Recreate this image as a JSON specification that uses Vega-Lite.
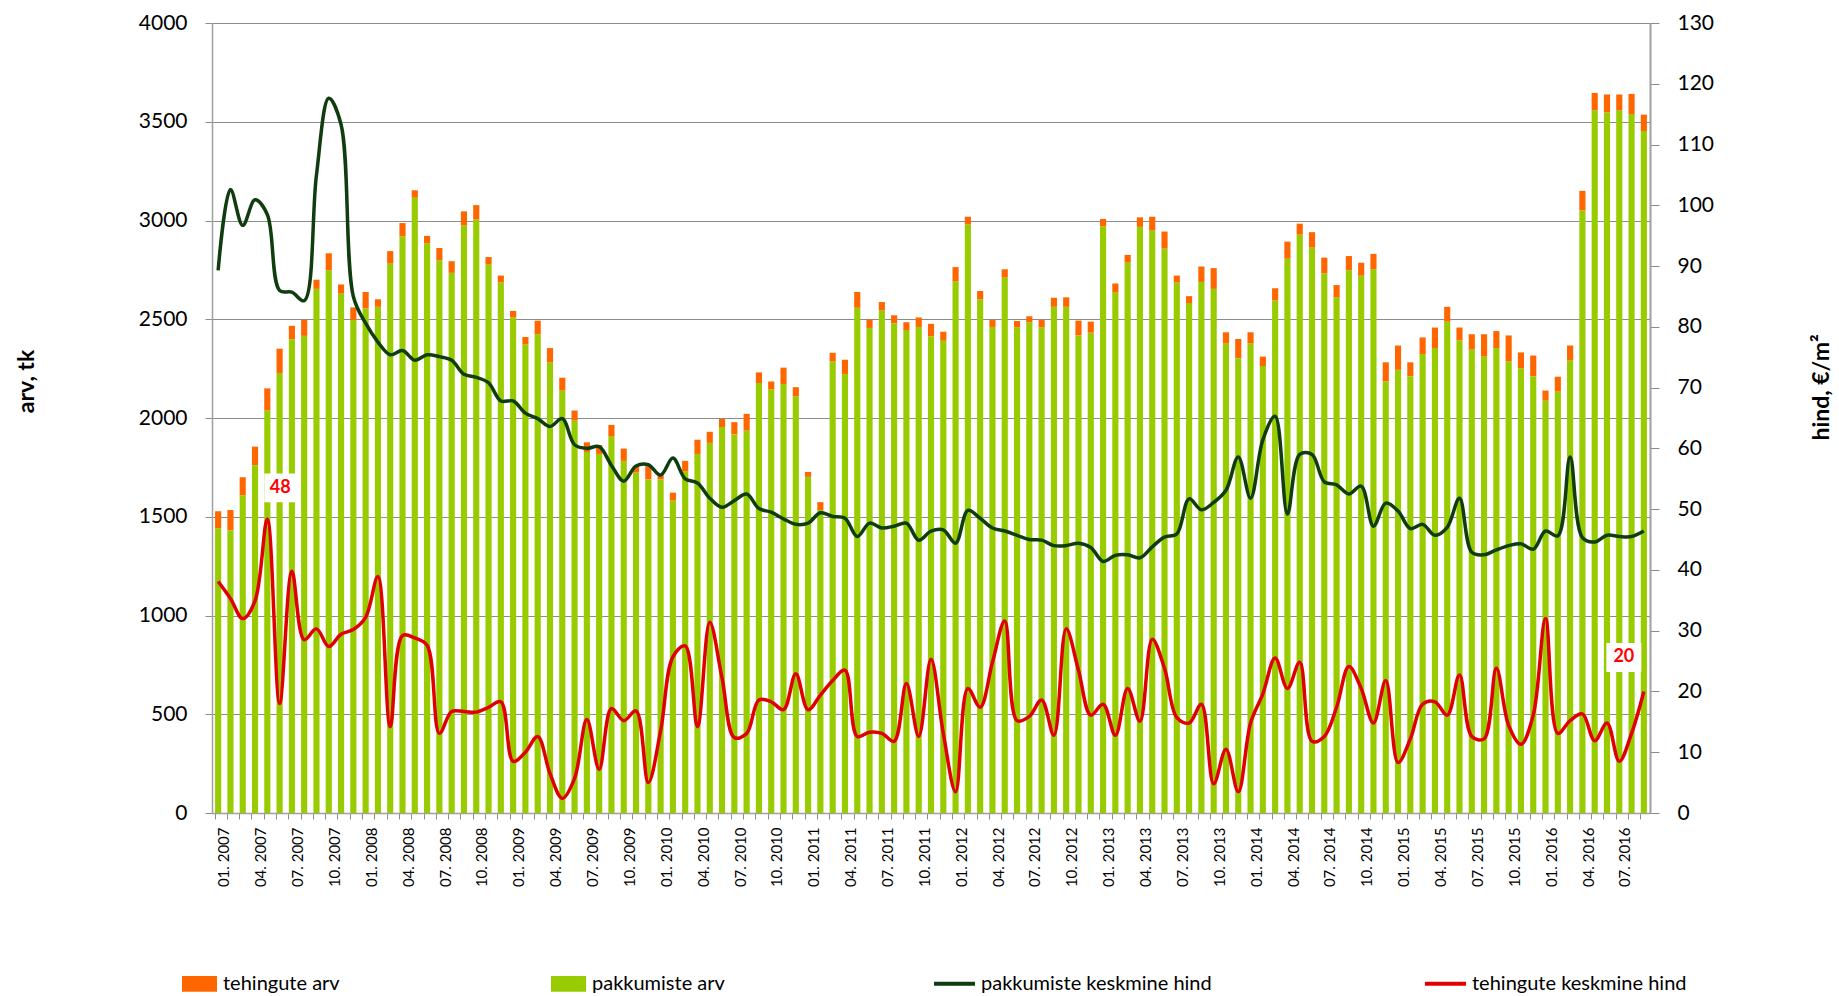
{
  "$schema": "https://vega.github.io/schema/vega-lite/v6.json",
  "autosize": {"type": "none"},
  "width": 1438,
  "height": 790,
  "padding": {"left": 212, "top": 23, "right": 189, "bottom": 183},
  "background": "white",
  "config": {
    "view": {"stroke": null},
    "font": "Lato",
    "axis": {"labelFont": "Lato", "titleFont": "Lato", "labelColor": "#000000", "titleColor": "#000000"}
  },
  "datasets": {
    "d": [
      {"kuu":"2007-01","pakkumiste_arv":1442,"tehingute_arv":86,"pakkumiste_hind":89.3,"tehingute_hind":38.1},
      {"kuu":"2007-02","pakkumiste_arv":1432,"tehingute_arv":102,"pakkumiste_hind":102.6,"tehingute_hind":35.3},
      {"kuu":"2007-03","pakkumiste_arv":1609,"tehingute_arv":91,"pakkumiste_hind":96.7,"tehingute_hind":32.0},
      {"kuu":"2007-04","pakkumiste_arv":1761,"tehingute_arv":94,"pakkumiste_hind":100.9,"tehingute_hind":34.9},
      {"kuu":"2007-05","pakkumiste_arv":2038,"tehingute_arv":112,"pakkumiste_hind":98.5,"tehingute_hind":48.4},
      {"kuu":"2007-06","pakkumiste_arv":2228,"tehingute_arv":123,"pakkumiste_hind":86.0,"tehingute_hind":18.0},
      {"kuu":"2007-07","pakkumiste_arv":2399,"tehingute_arv":68,"pakkumiste_hind":85.7,"tehingute_hind":39.8},
      {"kuu":"2007-08","pakkumiste_arv":2416,"tehingute_arv":80,"pakkumiste_hind":84.3,"tehingute_hind":28.5},
      {"kuu":"2007-09","pakkumiste_arv":2654,"tehingute_arv":46,"pakkumiste_hind":105.0,"tehingute_hind":30.3},
      {"kuu":"2007-10","pakkumiste_arv":2748,"tehingute_arv":86,"pakkumiste_hind":117.6,"tehingute_hind":27.4},
      {"kuu":"2007-11","pakkumiste_arv":2630,"tehingute_arv":46,"pakkumiste_hind":113.3,"tehingute_hind":29.4},
      {"kuu":"2007-12","pakkumiste_arv":2496,"tehingute_arv":64,"pakkumiste_hind":85.0,"tehingute_hind":30.2},
      {"kuu":"2008-01","pakkumiste_arv":2555,"tehingute_arv":83,"pakkumiste_hind":80.6,"tehingute_hind":32.2},
      {"kuu":"2008-02","pakkumiste_arv":2563,"tehingute_arv":38,"pakkumiste_hind":77.5,"tehingute_hind":38.9},
      {"kuu":"2008-03","pakkumiste_arv":2783,"tehingute_arv":62,"pakkumiste_hind":75.4,"tehingute_hind":14.2},
      {"kuu":"2008-04","pakkumiste_arv":2920,"tehingute_arv":67,"pakkumiste_hind":76.1,"tehingute_hind":29.2},
      {"kuu":"2008-05","pakkumiste_arv":3115,"tehingute_arv":38,"pakkumiste_hind":74.5,"tehingute_hind":28.8},
      {"kuu":"2008-06","pakkumiste_arv":2885,"tehingute_arv":37,"pakkumiste_hind":75.4,"tehingute_hind":27.6},
      {"kuu":"2008-07","pakkumiste_arv":2799,"tehingute_arv":62,"pakkumiste_hind":75.1,"tehingute_hind":13.1},
      {"kuu":"2008-08","pakkumiste_arv":2735,"tehingute_arv":59,"pakkumiste_hind":74.5,"tehingute_hind":16.7},
      {"kuu":"2008-09","pakkumiste_arv":2976,"tehingute_arv":70,"pakkumiste_hind":72.2,"tehingute_hind":16.7},
      {"kuu":"2008-10","pakkumiste_arv":3005,"tehingute_arv":73,"pakkumiste_hind":71.7,"tehingute_hind":16.6},
      {"kuu":"2008-11","pakkumiste_arv":2778,"tehingute_arv":37,"pakkumiste_hind":70.8,"tehingute_hind":17.4},
      {"kuu":"2008-12","pakkumiste_arv":2686,"tehingute_arv":35,"pakkumiste_hind":67.8,"tehingute_hind":18.3},
      {"kuu":"2009-01","pakkumiste_arv":2509,"tehingute_arv":33,"pakkumiste_hind":67.8,"tehingute_hind":8.5},
      {"kuu":"2009-02","pakkumiste_arv":2373,"tehingute_arv":37,"pakkumiste_hind":65.8,"tehingute_hind":10.0},
      {"kuu":"2009-03","pakkumiste_arv":2424,"tehingute_arv":69,"pakkumiste_hind":64.9,"tehingute_hind":12.6},
      {"kuu":"2009-04","pakkumiste_arv":2282,"tehingute_arv":72,"pakkumiste_hind":63.6,"tehingute_hind":6.5},
      {"kuu":"2009-05","pakkumiste_arv":2139,"tehingute_arv":65,"pakkumiste_hind":64.9,"tehingute_hind":2.4},
      {"kuu":"2009-06","pakkumiste_arv":1987,"tehingute_arv":51,"pakkumiste_hind":60.6,"tehingute_hind":5.7},
      {"kuu":"2009-07","pakkumiste_arv":1828,"tehingute_arv":49,"pakkumiste_hind":60.0,"tehingute_hind":15.4},
      {"kuu":"2009-08","pakkumiste_arv":1818,"tehingute_arv":45,"pakkumiste_hind":60.3,"tehingute_hind":7.2},
      {"kuu":"2009-09","pakkumiste_arv":1906,"tehingute_arv":59,"pakkumiste_hind":57.2,"tehingute_hind":17.2},
      {"kuu":"2009-10","pakkumiste_arv":1783,"tehingute_arv":62,"pakkumiste_hind":54.6,"tehingute_hind":15.2},
      {"kuu":"2009-11","pakkumiste_arv":1724,"tehingute_arv":32,"pakkumiste_hind":57.1,"tehingute_hind":16.8},
      {"kuu":"2009-12","pakkumiste_arv":1689,"tehingute_arv":67,"pakkumiste_hind":57.3,"tehingute_hind":5.0},
      {"kuu":"2010-01","pakkumiste_arv":1689,"tehingute_arv":32,"pakkumiste_hind":55.6,"tehingute_hind":13.5},
      {"kuu":"2010-02","pakkumiste_arv":1582,"tehingute_arv":40,"pakkumiste_hind":58.4,"tehingute_hind":25.7},
      {"kuu":"2010-03","pakkumiste_arv":1729,"tehingute_arv":54,"pakkumiste_hind":55.0,"tehingute_hind":27.5},
      {"kuu":"2010-04","pakkumiste_arv":1818,"tehingute_arv":72,"pakkumiste_hind":54.3,"tehingute_hind":14.2},
      {"kuu":"2010-05","pakkumiste_arv":1874,"tehingute_arv":56,"pakkumiste_hind":51.8,"tehingute_hind":31.4},
      {"kuu":"2010-06","pakkumiste_arv":1954,"tehingute_arv":41,"pakkumiste_hind":50.3,"tehingute_hind":22.2},
      {"kuu":"2010-07","pakkumiste_arv":1917,"tehingute_arv":62,"pakkumiste_hind":51.4,"tehingute_hind":12.4},
      {"kuu":"2010-08","pakkumiste_arv":1936,"tehingute_arv":85,"pakkumiste_hind":52.5,"tehingute_hind":13.1},
      {"kuu":"2010-09","pakkumiste_arv":2177,"tehingute_arv":54,"pakkumiste_hind":50.1,"tehingute_hind":18.6},
      {"kuu":"2010-10","pakkumiste_arv":2145,"tehingute_arv":40,"pakkumiste_hind":49.5,"tehingute_hind":18.3},
      {"kuu":"2010-11","pakkumiste_arv":2172,"tehingute_arv":83,"pakkumiste_hind":48.4,"tehingute_hind":17.0},
      {"kuu":"2010-12","pakkumiste_arv":2110,"tehingute_arv":46,"pakkumiste_hind":47.5,"tehingute_hind":22.9},
      {"kuu":"2011-01","pakkumiste_arv":1702,"tehingute_arv":25,"pakkumiste_hind":47.7,"tehingute_hind":17.0},
      {"kuu":"2011-02","pakkumiste_arv":1534,"tehingute_arv":40,"pakkumiste_hind":49.4,"tehingute_hind":19.4},
      {"kuu":"2011-03","pakkumiste_arv":2287,"tehingute_arv":43,"pakkumiste_hind":48.8,"tehingute_hind":21.8},
      {"kuu":"2011-04","pakkumiste_arv":2223,"tehingute_arv":72,"pakkumiste_hind":48.5,"tehingute_hind":23.5},
      {"kuu":"2011-05","pakkumiste_arv":2558,"tehingute_arv":80,"pakkumiste_hind":45.5,"tehingute_hind":12.6},
      {"kuu":"2011-06","pakkumiste_arv":2456,"tehingute_arv":43,"pakkumiste_hind":47.7,"tehingute_hind":13.3},
      {"kuu":"2011-07","pakkumiste_arv":2544,"tehingute_arv":43,"pakkumiste_hind":46.9,"tehingute_hind":13.1},
      {"kuu":"2011-08","pakkumiste_arv":2480,"tehingute_arv":40,"pakkumiste_hind":47.2,"tehingute_hind":11.8},
      {"kuu":"2011-09","pakkumiste_arv":2445,"tehingute_arv":40,"pakkumiste_hind":47.7,"tehingute_hind":21.3},
      {"kuu":"2011-10","pakkumiste_arv":2461,"tehingute_arv":48,"pakkumiste_hind":44.9,"tehingute_hind":12.6},
      {"kuu":"2011-11","pakkumiste_arv":2413,"tehingute_arv":64,"pakkumiste_hind":46.4,"tehingute_hind":25.3},
      {"kuu":"2011-12","pakkumiste_arv":2391,"tehingute_arv":46,"pakkumiste_hind":46.6,"tehingute_hind":13.1},
      {"kuu":"2012-01","pakkumiste_arv":2692,"tehingute_arv":72,"pakkumiste_hind":44.4,"tehingute_hind":3.5},
      {"kuu":"2012-02","pakkumiste_arv":2981,"tehingute_arv":38,"pakkumiste_hind":49.8,"tehingute_hind":20.5},
      {"kuu":"2012-03","pakkumiste_arv":2601,"tehingute_arv":42,"pakkumiste_hind":48.5,"tehingute_hind":17.4},
      {"kuu":"2012-04","pakkumiste_arv":2461,"tehingute_arv":35,"pakkumiste_hind":46.9,"tehingute_hind":24.8},
      {"kuu":"2012-05","pakkumiste_arv":2711,"tehingute_arv":42,"pakkumiste_hind":46.4,"tehingute_hind":31.6},
      {"kuu":"2012-06","pakkumiste_arv":2458,"tehingute_arv":33,"pakkumiste_hind":45.7,"tehingute_hind":15.2},
      {"kuu":"2012-07","pakkumiste_arv":2485,"tehingute_arv":30,"pakkumiste_hind":45.0,"tehingute_hind":15.9},
      {"kuu":"2012-08","pakkumiste_arv":2458,"tehingute_arv":38,"pakkumiste_hind":44.9,"tehingute_hind":18.6},
      {"kuu":"2012-09","pakkumiste_arv":2563,"tehingute_arv":46,"pakkumiste_hind":44.0,"tehingute_hind":12.8},
      {"kuu":"2012-10","pakkumiste_arv":2563,"tehingute_arv":48,"pakkumiste_hind":44.0,"tehingute_hind":30.3},
      {"kuu":"2012-11","pakkumiste_arv":2418,"tehingute_arv":75,"pakkumiste_hind":44.4,"tehingute_hind":23.5},
      {"kuu":"2012-12","pakkumiste_arv":2432,"tehingute_arv":56,"pakkumiste_hind":43.7,"tehingute_hind":16.1},
      {"kuu":"2013-01","pakkumiste_arv":2971,"tehingute_arv":37,"pakkumiste_hind":41.4,"tehingute_hind":17.9},
      {"kuu":"2013-02","pakkumiste_arv":2635,"tehingute_arv":46,"pakkumiste_hind":42.4,"tehingute_hind":12.8},
      {"kuu":"2013-03","pakkumiste_arv":2788,"tehingute_arv":38,"pakkumiste_hind":42.5,"tehingute_hind":20.5},
      {"kuu":"2013-04","pakkumiste_arv":2968,"tehingute_arv":48,"pakkumiste_hind":42.0,"tehingute_hind":15.1},
      {"kuu":"2013-05","pakkumiste_arv":2949,"tehingute_arv":70,"pakkumiste_hind":43.8,"tehingute_hind":28.6},
      {"kuu":"2013-06","pakkumiste_arv":2858,"tehingute_arv":86,"pakkumiste_hind":45.4,"tehingute_hind":23.8},
      {"kuu":"2013-07","pakkumiste_arv":2686,"tehingute_arv":35,"pakkumiste_hind":45.9,"tehingute_hind":15.7},
      {"kuu":"2013-08","pakkumiste_arv":2582,"tehingute_arv":35,"pakkumiste_hind":51.7,"tehingute_hind":14.8},
      {"kuu":"2013-09","pakkumiste_arv":2689,"tehingute_arv":78,"pakkumiste_hind":49.9,"tehingute_hind":17.9},
      {"kuu":"2013-10","pakkumiste_arv":2654,"tehingute_arv":105,"pakkumiste_hind":51.1,"tehingute_hind":4.8},
      {"kuu":"2013-11","pakkumiste_arv":2378,"tehingute_arv":56,"pakkumiste_hind":53.1,"tehingute_hind":10.5},
      {"kuu":"2013-12","pakkumiste_arv":2303,"tehingute_arv":97,"pakkumiste_hind":58.6,"tehingute_hind":3.5},
      {"kuu":"2014-01","pakkumiste_arv":2378,"tehingute_arv":56,"pakkumiste_hind":51.8,"tehingute_hind":14.8},
      {"kuu":"2014-02","pakkumiste_arv":2263,"tehingute_arv":48,"pakkumiste_hind":61.4,"tehingute_hind":19.6},
      {"kuu":"2014-03","pakkumiste_arv":2595,"tehingute_arv":62,"pakkumiste_hind":65.3,"tehingute_hind":25.5},
      {"kuu":"2014-04","pakkumiste_arv":2807,"tehingute_arv":86,"pakkumiste_hind":49.2,"tehingute_hind":20.5},
      {"kuu":"2014-05","pakkumiste_arv":2928,"tehingute_arv":56,"pakkumiste_hind":59.0,"tehingute_hind":24.8},
      {"kuu":"2014-06","pakkumiste_arv":2863,"tehingute_arv":78,"pakkumiste_hind":59.0,"tehingute_hind":11.8},
      {"kuu":"2014-07","pakkumiste_arv":2732,"tehingute_arv":80,"pakkumiste_hind":54.5,"tehingute_hind":12.6},
      {"kuu":"2014-08","pakkumiste_arv":2611,"tehingute_arv":62,"pakkumiste_hind":54.0,"tehingute_hind":17.4},
      {"kuu":"2014-09","pakkumiste_arv":2748,"tehingute_arv":72,"pakkumiste_hind":52.5,"tehingute_hind":24.1},
      {"kuu":"2014-10","pakkumiste_arv":2721,"tehingute_arv":65,"pakkumiste_hind":53.8,"tehingute_hind":20.5},
      {"kuu":"2014-11","pakkumiste_arv":2753,"tehingute_arv":78,"pakkumiste_hind":47.2,"tehingute_hind":14.8},
      {"kuu":"2014-12","pakkumiste_arv":2185,"tehingute_arv":97,"pakkumiste_hind":51.0,"tehingute_hind":21.8},
      {"kuu":"2015-01","pakkumiste_arv":2244,"tehingute_arv":123,"pakkumiste_hind":49.7,"tehingute_hind":8.3},
      {"kuu":"2015-02","pakkumiste_arv":2212,"tehingute_arv":70,"pakkumiste_hind":46.8,"tehingute_hind":12.2},
      {"kuu":"2015-03","pakkumiste_arv":2324,"tehingute_arv":84,"pakkumiste_hind":47.5,"tehingute_hind":17.9},
      {"kuu":"2015-04","pakkumiste_arv":2354,"tehingute_arv":104,"pakkumiste_hind":45.7,"tehingute_hind":18.3},
      {"kuu":"2015-05","pakkumiste_arv":2488,"tehingute_arv":75,"pakkumiste_hind":47.0,"tehingute_hind":16.1},
      {"kuu":"2015-06","pakkumiste_arv":2394,"tehingute_arv":64,"pakkumiste_hind":51.8,"tehingute_hind":22.7},
      {"kuu":"2015-07","pakkumiste_arv":2346,"tehingute_arv":78,"pakkumiste_hind":42.9,"tehingute_hind":12.6},
      {"kuu":"2015-08","pakkumiste_arv":2311,"tehingute_arv":113,"pakkumiste_hind":42.5,"tehingute_hind":12.2},
      {"kuu":"2015-09","pakkumiste_arv":2354,"tehingute_arv":86,"pakkumiste_hind":43.3,"tehingute_hind":23.8},
      {"kuu":"2015-10","pakkumiste_arv":2287,"tehingute_arv":131,"pakkumiste_hind":44.0,"tehingute_hind":14.4},
      {"kuu":"2015-11","pakkumiste_arv":2252,"tehingute_arv":80,"pakkumiste_hind":44.3,"tehingute_hind":11.3},
      {"kuu":"2015-12","pakkumiste_arv":2212,"tehingute_arv":104,"pakkumiste_hind":43.4,"tehingute_hind":16.1},
      {"kuu":"2016-01","pakkumiste_arv":2088,"tehingute_arv":51,"pakkumiste_hind":46.4,"tehingute_hind":32.0},
      {"kuu":"2016-02","pakkumiste_arv":2134,"tehingute_arv":75,"pakkumiste_hind":45.6,"tehingute_hind":13.1},
      {"kuu":"2016-03","pakkumiste_arv":2292,"tehingute_arv":75,"pakkumiste_hind":58.6,"tehingute_hind":15.2},
      {"kuu":"2016-04","pakkumiste_arv":3051,"tehingute_arv":99,"pakkumiste_hind":45.3,"tehingute_hind":16.3},
      {"kuu":"2016-05","pakkumiste_arv":3558,"tehingute_arv":88,"pakkumiste_hind":44.6,"tehingute_hind":11.9},
      {"kuu":"2016-06","pakkumiste_arv":3547,"tehingute_arv":91,"pakkumiste_hind":45.7,"tehingute_hind":14.8},
      {"kuu":"2016-07","pakkumiste_arv":3558,"tehingute_arv":80,"pakkumiste_hind":45.5,"tehingute_hind":8.5},
      {"kuu":"2016-08","pakkumiste_arv":3539,"tehingute_arv":102,"pakkumiste_hind":45.5,"tehingute_hind":13.1},
      {"kuu":"2016-09","pakkumiste_arv":3453,"tehingute_arv":83,"pakkumiste_hind":46.4,"tehingute_hind":20.0}
    ]
  },
  "data": {"name": "d"},
  "resolve": {"scale": {"y": "independent"}},
  "layer": [
    {
      "transform": [{"fold": ["pakkumiste_arv", "tehingute_arv"], "as": ["sari", "arv"]}],
      "mark": {"type": "bar"},
      "encoding": {
        "x": {
          "field": "kuu", "type": "ordinal",
          "scale": {"paddingInner": 0.5, "paddingOuter": 0.25},
          "axis": {
            "title": null,
            "bandPosition": 0,
            "labelOffset": 6.15,
            "labelAngle": -90,
            "labelFontSize": 15,
            "labelPadding": 8,
            "labelOverlap": false,
            "labelExpr": "indexof(['01','04','07','10'], substring(datum.value,5,7)) >= 0 ? substring(datum.value,5,7) + '. ' + substring(datum.value,0,4) : ''",
            "tickSize": 6,
            "tickColor": "#8c8c8c",
            "domainColor": "#a0a0a0",
            "domainWidth": 1.5,
            "grid": false
          }
        },
        "y": {
          "field": "arv", "type": "quantitative", "stack": "zero",
          "scale": {"domain": [0, 4000], "nice": false},
          "axis": {
            "orient": "left",
            "title": "arv, tk",
            "titleFontSize": 23,
            "titleFontWeight": "bold",
            "titleAngle": -90,
            "titleX": -186,
            "titleY": 358,
            "titleAlign": "center",
            "titleBaseline": "middle",
            "values": [0, 500, 1000, 1500, 2000, 2500, 3000, 3500, 4000],
            "format": "d",
            "labelFontSize": 21,
            "labelPadding": 18,
            "tickSize": 7,
            "tickColor": "#8c8c8c",
            "grid": true,
            "gridColor": "#8c8c8c",
            "gridWidth": 1,
            "domainColor": "#a0a0a0",
            "domainWidth": 1.5
          }
        },
        "color": {
          "field": "sari", "type": "nominal",
          "scale": {"domain": ["tehingute_arv", "pakkumiste_arv"], "range": ["#FF6600", "#99CC00"]},
          "legend": {
            "orient": "none",
            "legendX": -30,
            "legendY": 943,
            "direction": "horizontal",
            "title": null,
            "padding": 0,
            "symbolType": "M-1,-0.45H1V0.45H-1Z",
            "symbolSize": 1225,
            "symbolStrokeWidth": 0,
            "symbolOpacity": 1,
            "labelFont": "Lato",
            "labelFontSize": 20,
            "labelColor": "#000000",
            "labelOffset": 6,
            "labelLimit": 400,
            "columnPadding": 211,
            "labelExpr": "replace(datum.label, '_', ' ')"
          }
        },
        "order": {"field": "sari", "sort": "ascending"}
      }
    },
    {
      "layer": [
        {
          "transform": [{"fold": ["pakkumiste_hind", "tehingute_hind"], "as": ["sari2", "hind"]}],
          "mark": {"type": "line", "interpolate": "catmull-rom", "strokeWidth": 3.5},
          "encoding": {
            "x": {"field": "kuu", "type": "ordinal", "title": null},
            "y": {
              "field": "hind", "type": "quantitative",
              "scale": {"domain": [0, 130], "nice": false},
              "axis": {
                "orient": "right",
                "title": "hind, €/m²",
                "titleFontSize": 23,
                "titleFontWeight": "bold",
                "titleAngle": -90,
                "titleX": 171,
                "titleY": 364,
                "titleAlign": "center",
                "titleBaseline": "middle",
                "values": [0, 10, 20, 30, 40, 50, 60, 70, 80, 90, 100, 110, 120, 130],
                "labelFontSize": 21,
                "labelPadding": 18,
                "tickSize": 9,
                "tickColor": "#8c8c8c",
                "grid": false,
                "domainColor": "#a0a0a0",
                "domainWidth": 2
              }
            },
            "stroke": {
              "field": "sari2", "type": "nominal",
              "scale": {"domain": ["pakkumiste_hind", "tehingute_hind"], "range": ["#0F3D0F", "#E00000"]},
              "legend": {
                "orient": "none",
                "legendX": 720,
                "legendY": 938,
                "direction": "horizontal",
                "title": null,
                "padding": 0,
                "symbolType": "stroke",
                "symbolSize": 1681,
                "symbolStrokeWidth": 4,
                "labelFont": "Lato",
                "labelFontSize": 20,
                "labelColor": "#000000",
                "labelOffset": 4,
                "labelLimit": 400,
                "columnPadding": 205,
                "labelExpr": "datum.label == 'pakkumiste_hind' ? 'pakkumiste keskmine hind' : 'tehingute keskmine hind'"
              }
            }
          }
        },
        {
          "transform": [{"filter": "datum.kuu == '2007-05'"}],
          "mark": {"type": "point", "shape": "M-1,-0.9H1V0.9H-1Z", "filled": true, "color": "white", "opacity": 1, "size": 1024, "xOffset": 13, "yOffset": -31, "strokeWidth": 0},
          "encoding": {
            "x": {"field": "kuu", "type": "ordinal", "title": null},
            "y": {"field": "tehingute_hind", "type": "quantitative"}
          }
        },
        {
          "transform": [{"filter": "datum.kuu == '2007-05'"}],
          "mark": {"type": "text", "font": "Lato", "fontSize": 18, "fontWeight": "bold", "color": "#FF0000", "xOffset": 13, "yOffset": -31, "baseline": "middle", "align": "center"},
          "encoding": {
            "x": {"field": "kuu", "type": "ordinal", "title": null},
            "y": {"field": "tehingute_hind", "type": "quantitative"},
            "text": {"field": "tehingute_hind", "type": "quantitative", "format": ".0f"}
          }
        },
        {
          "transform": [{"filter": "datum.kuu == '2016-09'"}],
          "mark": {"type": "point", "shape": "M-1,-0.83H1V0.83H-1Z", "filled": true, "color": "white", "opacity": 1, "size": 1225, "xOffset": -20, "yOffset": -34, "strokeWidth": 0},
          "encoding": {
            "x": {"field": "kuu", "type": "ordinal", "title": null},
            "y": {"field": "tehingute_hind", "type": "quantitative"}
          }
        },
        {
          "transform": [{"filter": "datum.kuu == '2016-09'"}],
          "mark": {"type": "text", "font": "Lato", "fontSize": 18, "fontWeight": "bold", "color": "#FF0000", "xOffset": -20, "yOffset": -34, "baseline": "middle", "align": "center"},
          "encoding": {
            "x": {"field": "kuu", "type": "ordinal", "title": null},
            "y": {"field": "tehingute_hind", "type": "quantitative"},
            "text": {"field": "tehingute_hind", "type": "quantitative", "format": ".0f"}
          }
        }
      ]
    }
  ]
}
